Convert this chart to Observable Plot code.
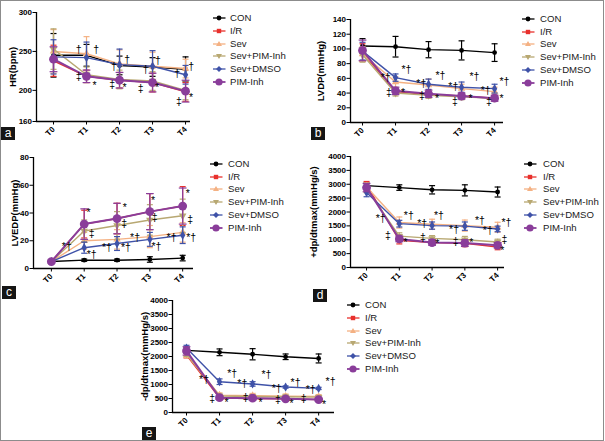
<!DOCTYPE html>
<html><head><meta charset="utf-8">
<script src="https://cdn.jsdelivr.net/npm/d3@7"></script>
<script src="https://cdn.jsdelivr.net/npm/@observablehq/plot@0.6"></script>
<style>
body{margin:0;background:#fff;}
#fig{position:relative;width:604px;height:441px;border:1px solid #8c8c8c;box-sizing:border-box;overflow:hidden;font-family:"Liberation Sans",Arial,sans-serif;background:#fff;}
.panel{position:absolute;}
.legend{position:absolute;font-size:9.6px;color:#1a1a1a;}
.legend .row{position:absolute;white-space:nowrap;height:12px;}
.legend svg{position:absolute;top:0;}
.legend span{position:absolute;top:0;line-height:12px;}
.tag{position:absolute;background:#151515;color:#fff;font-size:12px;line-height:13px;text-align:center;width:14px;height:13px;}
</style></head><body><div id="fig"></div>
<script>
const timepoints = ["T0","T1","T2","T3","T4"];
const groups = ["CON","I/R","Sev","Sev+PIM-Inh","Sev+DMSO","PIM-Inh"];
const groupColors = ["#000000","#e8302c","#f4b183","#b8a872","#3f52a8","#8a3d9a"];
const groupSymbols = ["circle","square","triangle","triangleDown","diamond","circle"];
const groupR = [2.4,2.4,2.8,2.8,2.8,4.4];

// (a) HR (bpm)
const hrMean = [[245,245,232,230,227],[238,218,213,210,198],[250,247,234,231,228],[253,220,214,212,200],[243,242,233,231,220],[240,218,213,210,199]];
const hrSD = [[28,14,12,12,16],[20,8,10,12,12],[28,22,18,18,12],[26,10,12,12,12],[22,20,20,20,12],[16,8,10,12,14]];
const hrTicks = [160,200,250,300];
const hrMarks = [[0.76,252,"†"],[1.29,252,"†"],[0.76,217,"‡"],[1.24,206,"*"],[1.83,231,"†"],[2.23,240,"†"],[1.78,208,"‡"],[2.15,204,"*"],[2.79,226,"†"],[3.16,238,"†"],[2.64,202,"‡"],[3.14,203,"*"],[3.75,222,"†"],[4.17,231,"†"],[3.8,186,"‡"],[4.17,191,"*"]];

// (b) LVDP (mmHg)
const lvdpMean = [[104,103,99,98,95],[95,42,38,36,33],[93,55,51,46,42],[92,40,37,35,33],[97,61,52,48,46],[98,43,39,36,33]];
const lvdpSD = [[10,14,11,13,12],[12,4,4,4,4],[10,7,8,6,6],[10,4,4,4,4],[12,5,7,7,6],[14,5,5,4,4]];
const lvdpTicks = [0,20,40,60,80,100,120,140];
const lvdpMarks = [[0.70,61,"*†"],[1.33,72,"*†"],[0.8,41,"‡"],[1.23,40,"*"],[1.78,53,"*†"],[2.36,64,"*†"],[1.8,37,"‡"],[2.26,33,"*"],[2.75,49,"*†"],[3.39,62,"*†"],[2.8,28,"‡"],[3.27,32,"*"],[3.73,43,"*†"],[4.3,55,"*†"],[3.83,28,"‡"],[4.21,32,"*"]];

// (c) LVEDP (mmHg)
const lvedpMean = [[5,6,6,6.5,7.5],[5,32,36,41,45],[5,20,21,23,26],[5,27,31,35,38],[5,15,18,21,24],[5,32,36,41,45]];
const lvedpSD = [[1,0.8,0.8,2,2],[1,10,11,13,14],[1,6,7,8,7],[1,8,10,11,12],[1,4,5,5,6],[1,11,11,13,13]];
const lvedpTicks = [0,20,40,60,80];
const lvedpMarks = [[1.13,40,"*"],[1.23,25,"‡"],[0.47,16,"*†"],[1.23,10,"*†"],[2.24,44,"*"],[2.22,32,"‡"],[1.69,15,"*†"],[2.27,15,"*†"],[3.1,49,"*"],[3.15,37,"‡"],[2.55,22,"*†"],[3.2,16,"*†"],[4.16,54,"*"],[4.23,35,"‡"],[3.66,22,"*†"],[4.26,22,"*†"]];

// (d) +dp/dtmax (mmHg/s)
const dpMaxMean = [[2950,2880,2800,2780,2720],[2980,980,900,870,740],[2900,1620,1560,1510,1450],[2850,1130,1050,1000,920],[2700,1580,1510,1490,1390],[2880,1030,900,880,800]];
const dpMaxSD = [[100,100,150,200,180],[120,130,100,120,100],[150,200,180,200,180],[150,120,100,120,100],[150,120,130,150,100],[150,100,100,120,100]];
const dpTicks = [0,500,1000,1500,2000,2500,3000,3500,4000];
const dpMaxMarks = [[0.43,1754,"*†"],[0.65,1153,"‡"],[1.19,912,"*"],[1.29,1874,"*†"],[1.7,1574,"*†"],[2.21,1874,"*†"],[1.72,1093,"‡"],[2.16,875,"*"],[2.67,1360,"*†"],[3.46,1680,"*†"],[2.72,950,"‡"],[3.2,912,"*"],[3.7,1330,"*†"],[4.27,1634,"*†"],[4.21,997,"‡"],[4.14,612,"*"]];

// (e) -dp/dtmax (mmHg/s)
const dpMinMean = [[2220,2150,2080,1990,1930],[2050,520,500,490,460],[2080,620,600,580,570],[2100,590,570,560,550],[2300,1100,1020,910,860],[2200,530,510,490,460]];
const dpMinSD = [[100,120,200,100,160],[100,60,60,60,50],[120,80,80,80,70],[100,70,70,70,60],[100,100,80,40,40],[150,60,60,60,50]];
const dpMinMarks = [[0.53,1177,"*†"],[0.78,493,"‡"],[1.21,336,"*"],[1.38,1381,"*†"],[1.69,1021,"*†"],[2.42,1357,"*†"],[1.79,517,"‡"],[2.24,336,"*"],[2.73,840,"*†"],[3.3,1057,"*†"],[2.77,460,"‡"],[3.18,300,"*"],[3.76,817,"*†"],[4.36,1117,"*†"],[3.55,493,"‡"],[4.16,277,"*"]];

const triangleDown = {draw(ctx, size){
  const y = -Math.sqrt(size / (Math.sqrt(3) * 3));
  ctx.moveTo(0, -y * 2); ctx.lineTo(-Math.sqrt(3) * y, y); ctx.lineTo(Math.sqrt(3) * y, y); ctx.closePath();
}};
function sym(name){ return name === "triangleDown" ? triangleDown : name; }

const fig = document.getElementById("fig");

function drawPanel(cfg){
  const marks = [
    Plot.ruleY([cfg.y[0]], {stroke:"#000", strokeWidth:1.3}),
    Plot.ruleX([cfg.x[0]], {stroke:"#000", strokeWidth:1.3}),
    Plot.axisY({ticks: cfg.ticks, tickFormat: d => String(d), tickSize:3.5, tickPadding:1, fontSize:8, fontWeight:"bold", label:null}),
    Plot.axisX({ticks:[0,1,2,3,4], tickFormat:i=>timepoints[i], tickRotate:-45, tickSize:3.5, tickPadding:3, fontSize:8, fontWeight:"bold", label:null}),
    Plot.text([cfg.ylabel], {frameAnchor:"left", textAnchor:"middle", rotate:-90, dx: cfg.labelDx, fontSize:9.5, fontWeight:"bold"})
  ];
  const capW = 3 / cfg.step;
  groups.forEach((g, gi) => {
    const d = cfg.mean[gi].map((m, i) => ({i, m, sd: cfg.sd[gi][i]}));
    const c = groupColors[gi];
    const cw = gi === 5 ? capW * 1.3 : capW;
    marks.push(
      Plot.ruleX(d, {x:"i", y1:r=>r.m-r.sd, y2:r=>r.m+r.sd, stroke:c, strokeWidth:1.2}),
      Plot.link(d, {x1:r=>r.i-cw, x2:r=>r.i+cw, y1:r=>r.m+r.sd, y2:r=>r.m+r.sd, stroke:c, strokeWidth:1.2}),
      Plot.link(d, {x1:r=>r.i-cw, x2:r=>r.i+cw, y1:r=>r.m-r.sd, y2:r=>r.m-r.sd, stroke:c, strokeWidth:1.2}),
      Plot.line(d, {x:"i", y:"m", stroke:c, strokeWidth: gi === 5 ? 2 : 1.4}),
      Plot.dot(d, {x:"i", y:"m", symbol: sym(groupSymbols[gi]), r: groupR[gi], fill:c, stroke:"none"})
    );
  });
  marks.push(Plot.text(cfg.marks, {x:d=>d[0], y:d=>d[1], text:d=>d[2], fontSize:10.5, fontWeight:"normal", fill:"#000"}));
  const svg = Plot.plot({
    width: cfg.width, height: cfg.height,
    marginLeft: cfg.m[0], marginTop: cfg.m[1], marginRight: cfg.m[2], marginBottom: cfg.m[3],
    x: {domain: cfg.x}, y: {domain: cfg.y},
    style: {fontFamily:'"Liberation Sans", Arial, sans-serif', background:"transparent", color:"#000", overflow:"visible"},
    marks
  });
  svg.classList.add("panel");
  svg.style.left = cfg.left + "px"; svg.style.top = cfg.top + "px";
  fig.appendChild(svg);
}

function legendSwatch(gi){
  const c = groupColors[gi];
  let m = "";
  if (gi === 0) m = `<circle cx="6" cy="6" r="2.4" fill="${c}"/>`;
  else if (gi === 1) m = `<rect x="3.8" y="3.8" width="4.4" height="4.4" fill="${c}"/>`;
  else if (gi === 2) m = `<path d="M6,3 L9,8 L3,8Z" fill="${c}"/>`;
  else if (gi === 3) m = `<path d="M6,9 L9,4 L3,4Z" fill="${c}"/>`;
  else if (gi === 4) m = `<path d="M6,3 L9,6 L6,9 L3,6Z" fill="${c}"/>`;
  else m = `<circle cx="6" cy="6" r="3.6" fill="${c}"/>`;
  return `<svg width="13" height="12"><line x1="0" x2="12.5" y1="6" y2="6" stroke="${c}" stroke-width="${gi===5?1.8:1.3}"/>${m}</svg>`;
}
function drawLegend(symLeft, textLeft, firstY, spacing){
  const div = document.createElement("div");
  div.className = "legend"; div.style.left = "0px"; div.style.top = "0px";
  groups.forEach((g, gi) => {
    const row = document.createElement("div");
    row.className = "row";
    row.style.top = (firstY - 6 + gi * spacing) + "px";
    row.innerHTML = `<span style="left:${symLeft}px">${legendSwatch(gi)}</span><span style="left:${textLeft}px">${g}</span>`;
    div.appendChild(row);
  });
  fig.appendChild(div);
}
function tag(letter, left, top){
  const t = document.createElement("div");
  t.className = "tag"; t.textContent = letter;
  t.style.left = left + "px"; t.style.top = top + "px";
  fig.appendChild(t);
}

drawPanel({left:-1, top:-1, width:210, height:150, m:[36,12,20,29], x:[-0.515,4.15], step:33, y:[160,300], ticks:hrTicks, ylabel:"HR(bpm)", labelDx:-24, mean:hrMean, sd:hrSD, marks:hrMarks});
drawPanel({left:299, top:-1, width:215, height:150, m:[50,19,12,28], x:[-0.364,4.27], step:33, y:[0,140], ticks:lvdpTicks, ylabel:"LVDP(mmHg)", labelDx:-30, mean:lvdpMean, sd:lvdpSD, marks:lvdpMarks});
drawPanel({left:-1, top:139, width:210, height:150, m:[33,17,17,22], x:[-0.545,4.33], step:33, y:[0,80], ticks:lvedpTicks, ylabel:"LVEDP(mmHg)", labelDx:-19, mean:lvedpMean, sd:lvedpSD, marks:lvedpMarks});
drawPanel({left:299, top:139, width:215, height:150, m:[50,16,11,23], x:[-0.49,4.21], step:32.75, y:[0,4000], ticks:dpTicks, ylabel:"+dp/dtmax(mmHg/s)", labelDx:-37, mean:dpMaxMean, sd:dpMaxSD, marks:dpMaxMarks});
drawPanel({left:139, top:284, width:210, height:150, m:[32,15,16,23], x:[-0.424,4.48], step:33, y:[0,4000], ticks:dpTicks, ylabel:"-dp/dtmax(mmHg/s)", labelDx:-28, mean:dpMinMean, sd:dpMinSD, marks:dpMinMarks});

drawLegend(212, 229, 17, 12.8);
drawLegend(521, 539, 18, 12.7);
drawLegend(209, 227, 163, 12.7);
drawLegend(523, 542, 163, 12.7);
drawLegend(346, 364, 304, 12.8);

tag("a", 0, 126);
tag("b", 310, 126);
tag("c", 1, 285);
tag("d", 312, 288);
tag("e", 141, 426);
</script></body></html>
